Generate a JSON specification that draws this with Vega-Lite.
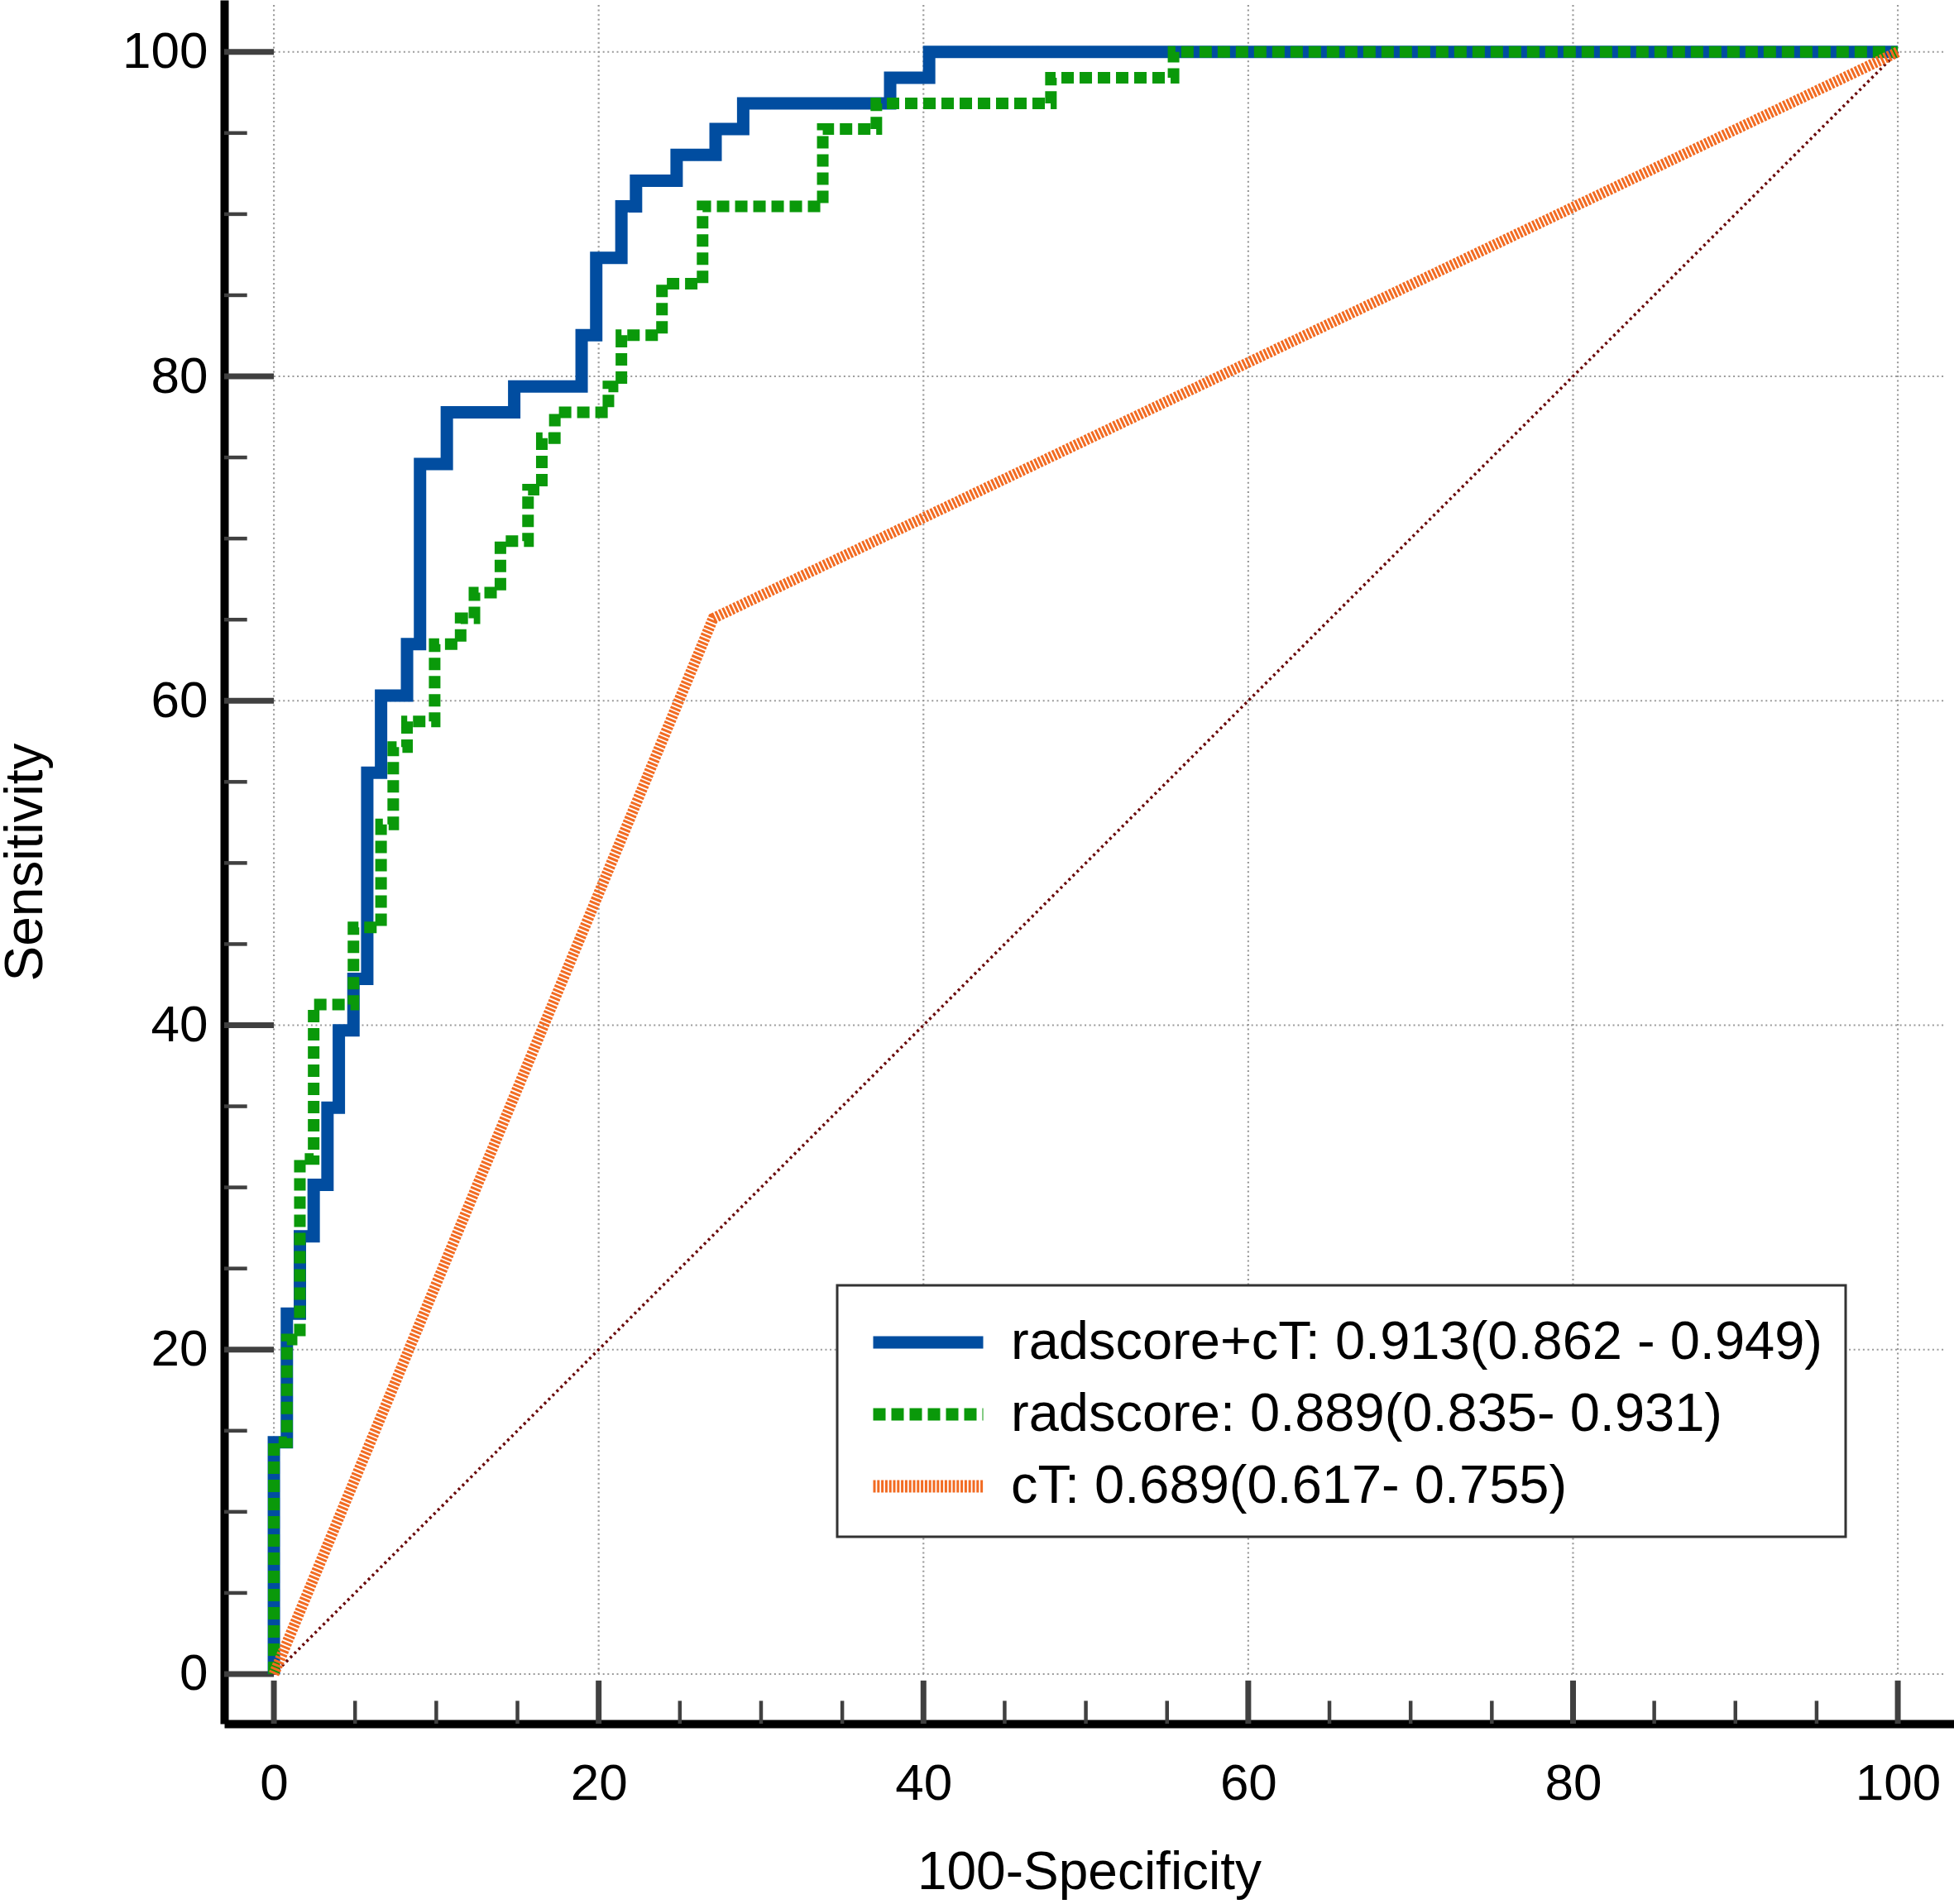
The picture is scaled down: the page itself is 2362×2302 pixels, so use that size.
{
  "$schema": "https://vega.github.io/schema/vega-lite/v6.json",
  "width": 2091,
  "height": 2084,
  "autosize": {"type": "none"},
  "padding": {"left": 271, "top": 0, "right": 0, "bottom": 218},
  "background": "white",
  "config": {
    "view": {"stroke": null},
    "font": "Liberation Sans",
    "legend": {"strokeWidth": 3}
  },
  "datasets": {
    "roc": [
      {"model": "radscore+cT: 0.913(0.862 - 0.949)", "k": 0, "fpr": 0, "tpr": 0},
      {"model": "radscore+cT: 0.913(0.862 - 0.949)", "k": 1, "fpr": 0, "tpr": 14.29},
      {"model": "radscore+cT: 0.913(0.862 - 0.949)", "k": 2, "fpr": 0.8, "tpr": 22.22},
      {"model": "radscore+cT: 0.913(0.862 - 0.949)", "k": 3, "fpr": 1.6, "tpr": 26.98},
      {"model": "radscore+cT: 0.913(0.862 - 0.949)", "k": 4, "fpr": 2.45, "tpr": 30.16},
      {"model": "radscore+cT: 0.913(0.862 - 0.949)", "k": 5, "fpr": 3.3, "tpr": 34.92},
      {"model": "radscore+cT: 0.913(0.862 - 0.949)", "k": 6, "fpr": 4.0, "tpr": 39.68},
      {"model": "radscore+cT: 0.913(0.862 - 0.949)", "k": 7, "fpr": 4.9, "tpr": 42.86},
      {"model": "radscore+cT: 0.913(0.862 - 0.949)", "k": 8, "fpr": 5.75, "tpr": 55.56},
      {"model": "radscore+cT: 0.913(0.862 - 0.949)", "k": 9, "fpr": 6.6, "tpr": 60.32},
      {"model": "radscore+cT: 0.913(0.862 - 0.949)", "k": 10, "fpr": 8.2, "tpr": 63.49},
      {"model": "radscore+cT: 0.913(0.862 - 0.949)", "k": 11, "fpr": 9.0, "tpr": 74.6},
      {"model": "radscore+cT: 0.913(0.862 - 0.949)", "k": 12, "fpr": 10.65, "tpr": 77.78},
      {"model": "radscore+cT: 0.913(0.862 - 0.949)", "k": 13, "fpr": 14.8, "tpr": 79.37},
      {"model": "radscore+cT: 0.913(0.862 - 0.949)", "k": 14, "fpr": 18.95, "tpr": 82.54},
      {"model": "radscore+cT: 0.913(0.862 - 0.949)", "k": 15, "fpr": 19.85, "tpr": 87.3},
      {"model": "radscore+cT: 0.913(0.862 - 0.949)", "k": 16, "fpr": 21.4, "tpr": 90.48},
      {"model": "radscore+cT: 0.913(0.862 - 0.949)", "k": 17, "fpr": 22.3, "tpr": 92.06},
      {"model": "radscore+cT: 0.913(0.862 - 0.949)", "k": 18, "fpr": 24.8, "tpr": 93.65},
      {"model": "radscore+cT: 0.913(0.862 - 0.949)", "k": 19, "fpr": 27.2, "tpr": 95.24},
      {"model": "radscore+cT: 0.913(0.862 - 0.949)", "k": 20, "fpr": 28.9, "tpr": 96.83},
      {"model": "radscore+cT: 0.913(0.862 - 0.949)", "k": 21, "fpr": 37.95, "tpr": 98.41},
      {"model": "radscore+cT: 0.913(0.862 - 0.949)", "k": 22, "fpr": 40.35, "tpr": 100},
      {"model": "radscore+cT: 0.913(0.862 - 0.949)", "k": 23, "fpr": 100, "tpr": 100},
      {"model": "radscore: 0.889(0.835- 0.931)", "k": 0, "fpr": 0, "tpr": 0},
      {"model": "radscore: 0.889(0.835- 0.931)", "k": 1, "fpr": 0, "tpr": 14.29},
      {"model": "radscore: 0.889(0.835- 0.931)", "k": 2, "fpr": 0.8, "tpr": 20.63},
      {"model": "radscore: 0.889(0.835- 0.931)", "k": 3, "fpr": 1.6, "tpr": 31.75},
      {"model": "radscore: 0.889(0.835- 0.931)", "k": 4, "fpr": 2.45, "tpr": 41.27},
      {"model": "radscore: 0.889(0.835- 0.931)", "k": 5, "fpr": 4.9, "tpr": 46.03},
      {"model": "radscore: 0.889(0.835- 0.931)", "k": 6, "fpr": 6.6, "tpr": 52.38},
      {"model": "radscore: 0.889(0.835- 0.931)", "k": 7, "fpr": 7.35, "tpr": 57.14},
      {"model": "radscore: 0.889(0.835- 0.931)", "k": 8, "fpr": 8.2, "tpr": 58.73},
      {"model": "radscore: 0.889(0.835- 0.931)", "k": 9, "fpr": 9.9, "tpr": 63.49},
      {"model": "radscore: 0.889(0.835- 0.931)", "k": 10, "fpr": 11.5, "tpr": 65.08},
      {"model": "radscore: 0.889(0.835- 0.931)", "k": 11, "fpr": 12.35, "tpr": 66.67},
      {"model": "radscore: 0.889(0.835- 0.931)", "k": 12, "fpr": 13.95, "tpr": 69.84},
      {"model": "radscore: 0.889(0.835- 0.931)", "k": 13, "fpr": 15.65, "tpr": 73.02},
      {"model": "radscore: 0.889(0.835- 0.931)", "k": 14, "fpr": 16.5, "tpr": 76.19},
      {"model": "radscore: 0.889(0.835- 0.931)", "k": 15, "fpr": 17.3, "tpr": 77.78},
      {"model": "radscore: 0.889(0.835- 0.931)", "k": 16, "fpr": 20.6, "tpr": 79.37},
      {"model": "radscore: 0.889(0.835- 0.931)", "k": 17, "fpr": 21.4, "tpr": 82.54},
      {"model": "radscore: 0.889(0.835- 0.931)", "k": 18, "fpr": 23.9, "tpr": 85.71},
      {"model": "radscore: 0.889(0.835- 0.931)", "k": 19, "fpr": 26.4, "tpr": 90.48},
      {"model": "radscore: 0.889(0.835- 0.931)", "k": 20, "fpr": 33.8, "tpr": 95.24},
      {"model": "radscore: 0.889(0.835- 0.931)", "k": 21, "fpr": 37.1, "tpr": 96.83},
      {"model": "radscore: 0.889(0.835- 0.931)", "k": 22, "fpr": 47.85, "tpr": 98.41},
      {"model": "radscore: 0.889(0.835- 0.931)", "k": 23, "fpr": 55.4, "tpr": 100},
      {"model": "radscore: 0.889(0.835- 0.931)", "k": 24, "fpr": 100, "tpr": 100},
      {"model": "cT: 0.689(0.617- 0.755)", "k": 0, "fpr": 0, "tpr": 0},
      {"model": "cT: 0.689(0.617- 0.755)", "k": 1, "fpr": 27.05, "tpr": 65.08},
      {"model": "cT: 0.689(0.617- 0.755)", "k": 2, "fpr": 100, "tpr": 100}
    ],
    "ticks": [
      {"v": 0, "major": true}, {"v": 5, "major": false}, {"v": 10, "major": false}, {"v": 15, "major": false},
      {"v": 20, "major": true}, {"v": 25, "major": false}, {"v": 30, "major": false}, {"v": 35, "major": false},
      {"v": 40, "major": true}, {"v": 45, "major": false}, {"v": 50, "major": false}, {"v": 55, "major": false},
      {"v": 60, "major": true}, {"v": 65, "major": false}, {"v": 70, "major": false}, {"v": 75, "major": false},
      {"v": 80, "major": true}, {"v": 85, "major": false}, {"v": 90, "major": false}, {"v": 95, "major": false},
      {"v": 100, "major": true}
    ]
  },
  "layer": [
    {
      "data": {"name": "ticks"},
      "transform": [{"filter": "datum.major"}],
      "mark": {"type": "rule", "color": "#9a9a9a", "strokeWidth": 2.2, "strokeDash": [2, 3.6]},
      "encoding": {
        "x": {"field": "v", "type": "quantitative", "scale": {"domain": [-3.06, 103.46], "nice": false, "zero": false}, "axis": {"title": "100-Specificity"}},
        "y": {"datum": 0, "scale": {"domain": [-3.06, 103.2], "nice": false, "zero": false}, "axis": {"title": "Sensitivity"}},
        "y2": {"datum": 102.9}
      }
    },
    {
      "data": {"name": "ticks"},
      "transform": [{"filter": "datum.major"}],
      "mark": {"type": "rule", "color": "#9a9a9a", "strokeWidth": 2.2, "strokeDash": [2, 3.6]},
      "encoding": {
        "y": {"field": "v", "type": "quantitative", "axis": {"title": "Sensitivity"}},
        "x": {"datum": 0, "axis": {"title": "100-Specificity"}},
        "x2": {"datum": 102.9}
      }
    },
    {
      "data": {"name": "ticks"},
      "transform": [{"filter": "datum.major"}],
      "mark": {"type": "rule", "color": "#404040", "strokeWidth": 7},
      "encoding": {
        "y": {"field": "v", "type": "quantitative", "axis": {"title": "Sensitivity"}},
        "x": {"datum": -3.06, "axis": {"title": "100-Specificity"}},
        "x2": {"datum": 0}
      }
    },
    {
      "data": {"name": "ticks"},
      "transform": [{"filter": "!datum.major"}],
      "mark": {"type": "rule", "color": "#404040", "strokeWidth": 4.5},
      "encoding": {
        "y": {"field": "v", "type": "quantitative", "axis": {"title": "Sensitivity"}},
        "x": {"datum": -3.06, "axis": {"title": "100-Specificity"}},
        "x2": {"datum": -1.65}
      }
    },
    {
      "data": {"name": "ticks"},
      "transform": [{"filter": "datum.major"}],
      "mark": {"type": "rule", "color": "#404040", "strokeWidth": 7},
      "encoding": {
        "x": {"field": "v", "type": "quantitative", "axis": {"title": "100-Specificity"}},
        "y": {"datum": -3.06, "axis": {"title": "Sensitivity"}},
        "y2": {"datum": -0.4}
      }
    },
    {
      "data": {"name": "ticks"},
      "transform": [{"filter": "!datum.major"}],
      "mark": {"type": "rule", "color": "#404040", "strokeWidth": 4.5},
      "encoding": {
        "x": {"field": "v", "type": "quantitative", "axis": {"title": "100-Specificity"}},
        "y": {"datum": -3.06, "axis": {"title": "Sensitivity"}},
        "y2": {"datum": -1.65}
      }
    },
    {
      "data": {"values": [{"a": 0}]},
      "mark": {"type": "rule", "color": "#6b0a0a", "strokeWidth": 3.5, "strokeDash": [3, 4]},
      "encoding": {
        "x": {"datum": 0, "axis": {"title": "100-Specificity"}},
        "y": {"datum": 0, "axis": {"title": "Sensitivity"}},
        "x2": {"datum": 100},
        "y2": {"datum": 100}
      }
    },
    {
      "data": {"name": "roc"},
      "transform": [{"filter": "datum.model == 'radscore+cT: 0.913(0.862 - 0.949)'"}],
      "mark": {"type": "line", "interpolate": "step-after", "strokeWidth": 15},
      "encoding": {
        "x": {
          "field": "fpr", "type": "quantitative",
          "axis": {
            "values": [0, 20, 40, 60, 80, 100],
            "title": "100-Specificity",
            "grid": false, "ticks": false, "tickSize": 0,
            "domainColor": "black", "domainWidth": 10,
            "labelFontSize": 62, "labelColor": "black", "labelPadding": 42, "labelFlush": false,
            "titleFontSize": 64, "titleFontWeight": "normal", "titleColor": "black", "titlePadding": 45
          }
        },
        "y": {
          "field": "tpr", "type": "quantitative",
          "axis": {
            "values": [0, 20, 40, 60, 80, 100],
            "title": "Sensitivity",
            "grid": false, "ticks": false, "tickSize": 0,
            "domainColor": "black", "domainWidth": 10,
            "labelFontSize": 62, "labelColor": "black", "labelPadding": 20, "labelFlush": false,
            "titleFontSize": 64, "titleFontWeight": "normal", "titleColor": "black", "titlePadding": 84
          }
        },
        "order": {"field": "k", "type": "quantitative"},
        "color": {
          "field": "model", "type": "nominal",
          "scale": {
            "domain": ["radscore+cT: 0.913(0.862 - 0.949)", "radscore: 0.889(0.835- 0.931)", "cT: 0.689(0.617- 0.755)"],
            "range": ["#014da0", "#0a990a", "#f26b22"]
          },
          "legend": {
            "title": null,
            "orient": "none", "legendX": 741, "legendY": 1554,
            "symbolType": "M-2,0H2", "symbolSize": 4422, "symbolStrokeWidth": 15, "symbolOffset": 41,
            "labelFontSize": 65, "labelColor": "black", "labelOffset": 59, "labelLimit": 2000,
            "labelExpr": "datum.label + '\u00a0\u00a0\u00a0'",
            "rowPadding": 13, "padding": 28,
            "strokeColor": "#333333", "fillColor": "white"
          }
        },
        "strokeDash": {
          "field": "model", "type": "nominal",
          "scale": {
            "domain": ["radscore+cT: 0.913(0.862 - 0.949)", "radscore: 0.889(0.835- 0.931)", "cT: 0.689(0.617- 0.755)"],
            "range": [[1, 0], [15, 7], [3, 1.8]]
          },
          "legend": {
            "title": null,
            "orient": "none", "legendX": 741, "legendY": 1554,
            "symbolType": "M-2,0H2", "symbolSize": 4422, "symbolStrokeWidth": 15, "symbolOffset": 41,
            "labelFontSize": 65, "labelColor": "black", "labelOffset": 59, "labelLimit": 2000,
            "labelExpr": "datum.label + '\u00a0\u00a0\u00a0'",
            "rowPadding": 13, "padding": 28,
            "strokeColor": "#333333", "fillColor": "white"
          }
        }
      }
    },
    {
      "data": {"name": "roc"},
      "transform": [{"filter": "datum.model == 'radscore: 0.889(0.835- 0.931)'"}],
      "mark": {"type": "line", "interpolate": "step-after", "strokeWidth": 14},
      "encoding": {
        "x": {"field": "fpr", "type": "quantitative", "axis": {"title": "100-Specificity"}},
        "y": {"field": "tpr", "type": "quantitative", "axis": {"title": "Sensitivity"}},
        "order": {"field": "k", "type": "quantitative"},
        "color": {"field": "model", "type": "nominal"},
        "strokeDash": {"field": "model", "type": "nominal"}
      }
    },
    {
      "data": {"name": "roc"},
      "transform": [{"filter": "datum.model == 'cT: 0.689(0.617- 0.755)'"}],
      "mark": {"type": "line", "strokeWidth": 13},
      "encoding": {
        "x": {"field": "fpr", "type": "quantitative", "axis": {"title": "100-Specificity"}},
        "y": {"field": "tpr", "type": "quantitative", "axis": {"title": "Sensitivity"}},
        "order": {"field": "k", "type": "quantitative"},
        "color": {"field": "model", "type": "nominal"},
        "strokeDash": {"field": "model", "type": "nominal"}
      }
    }
  ]
}
